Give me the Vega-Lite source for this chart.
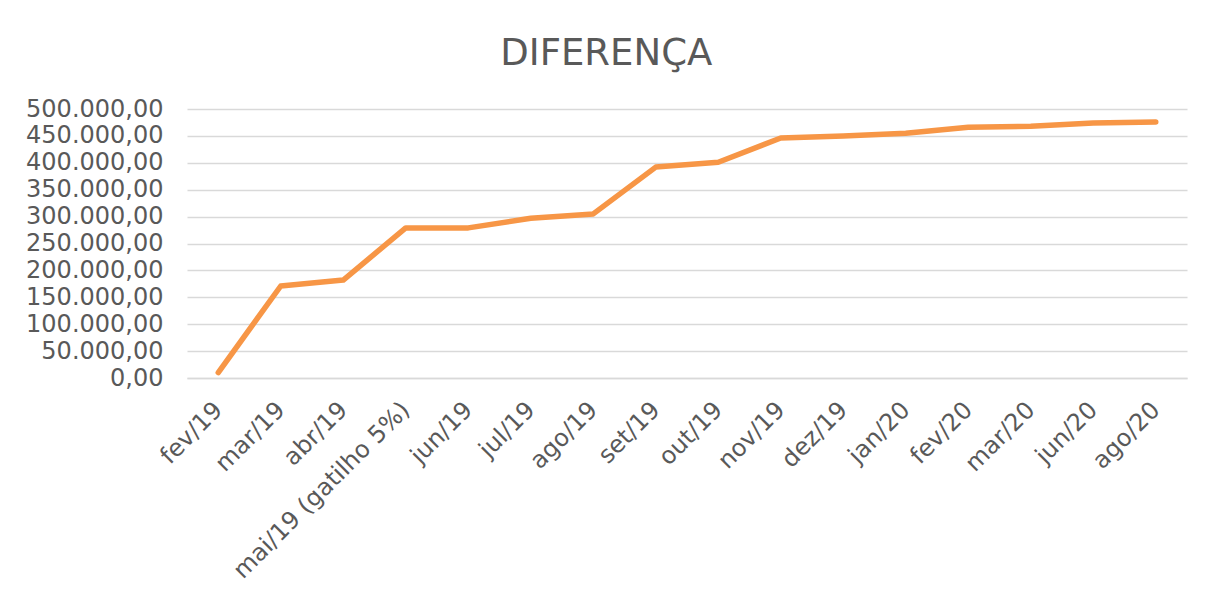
{
  "$schema": "https://vega.github.io/schema/vega-lite/v6.json",
  "width": 1000,
  "height": 269,
  "autosize": {"type": "none"},
  "padding": {"left": 187, "top": 109, "right": 20, "bottom": 223},
  "background": "white",
  "title": {
    "text": "DIFERENÇA",
    "font": "DejaVu Sans",
    "fontSize": 37,
    "fontWeight": "normal",
    "color": "#595959",
    "anchor": "middle",
    "frame": "bounds",
    "offset": 24
  },
  "config": {
    "view": {"stroke": null},
    "font": "DejaVu Sans"
  },
  "data": {
    "values": [
      {"mes": "fev/19", "valor": 10000},
      {"mes": "mar/19", "valor": 171000},
      {"mes": "abr/19", "valor": 182000},
      {"mes": "mai/19 (gatilho 5%)", "valor": 279000},
      {"mes": "jun/19", "valor": 279000},
      {"mes": "jul/19", "valor": 297000},
      {"mes": "ago/19", "valor": 305000},
      {"mes": "set/19", "valor": 392000},
      {"mes": "out/19", "valor": 401000},
      {"mes": "nov/19", "valor": 446000},
      {"mes": "dez/19", "valor": 450000},
      {"mes": "jan/20", "valor": 455000},
      {"mes": "fev/20", "valor": 466000},
      {"mes": "mar/20", "valor": 468000},
      {"mes": "jun/20", "valor": 474000},
      {"mes": "ago/20", "valor": 476000}
    ]
  },
  "mark": {"type": "line", "color": "#F79646", "strokeWidth": 5.5, "strokeCap": "round", "strokeJoin": "round"},
  "encoding": {
    "x": {
      "field": "mes",
      "type": "nominal",
      "sort": null,
      "scale": {"type": "point", "padding": 0.5},
      "axis": {
        "title": null,
        "labelAngle": -45,
        "labelAlign": "right",
        "labelBaseline": "middle",
        "labelFont": "DejaVu Sans",
        "labelFontSize": 24,
        "labelColor": "#595959",
        "labelPadding": 28,
        "labelLimit": 0,
        "ticks": false,
        "domainColor": "#d9d9d9",
        "domainWidth": 1.5,
        "grid": false,
        "labelOverlap": false
      }
    },
    "y": {
      "field": "valor",
      "type": "quantitative",
      "scale": {"domain": [0, 500000], "nice": false},
      "axis": {
        "title": null,
        "values": [0, 50000, 100000, 150000, 200000, 250000, 300000, 350000, 400000, 450000, 500000],
        "labelExpr": "replace(replace(replace(format(datum.value, ',.2f'), ',', '#'), '.', ','), '#', '.')",
        "labelFont": "DejaVu Sans",
        "labelFontSize": 24,
        "labelColor": "#595959",
        "labelPadding": 24,
        "ticks": false,
        "domain": false,
        "gridColor": "#d9d9d9",
        "gridWidth": 1.5
      }
    }
  }
}
